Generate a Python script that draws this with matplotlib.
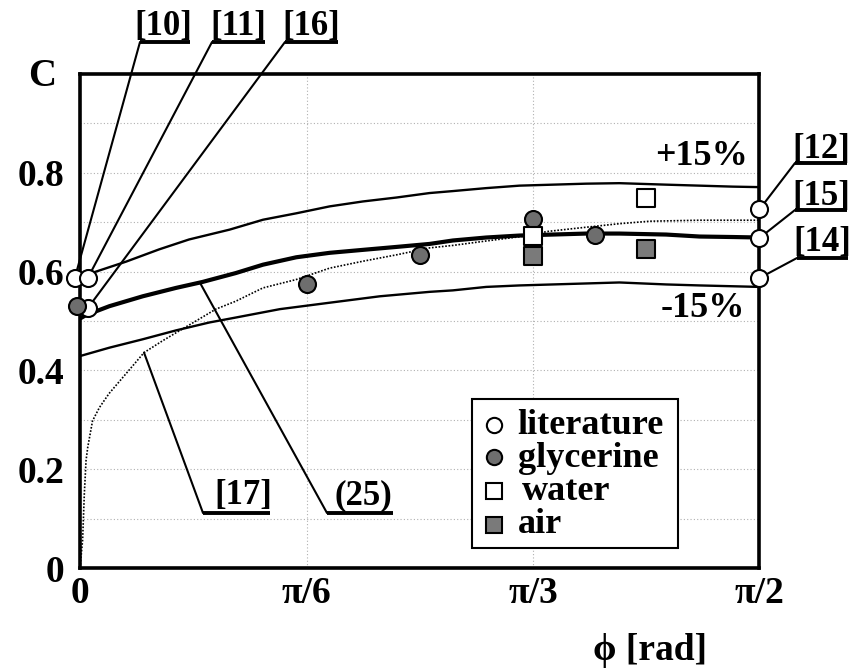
import numpy as np
import matplotlib
matplotlib.use("Agg")
import matplotlib.pyplot as plt
from matplotlib.patches import ConnectionPatch, Rectangle
from matplotlib.lines import Line2D

plt.rcParams["font.family"] = ["Liberation Serif", "DejaVu Serif"]
plt.rcParams["font.weight"] = "bold"

W, H = 854, 669
HALF_PI = np.pi / 2

# Eq. (25): discharge coefficient vs. inclination angle
PHI_EQ25 = [0, 0.014, 0.068, 0.145, 0.222, 0.283, 0.36, 0.423, 0.5, 0.577, 0.654,
            0.732, 0.808, 0.862, 0.939, 1.016, 1.093, 1.17, 1.247, 1.355, 1.432, 1.509, 1.571]
C_EQ25 = [0.505, 0.512, 0.53, 0.55, 0.567, 0.579, 0.597, 0.614, 0.629, 0.638, 0.644,
          0.65, 0.656, 0.663, 0.669, 0.673, 0.675, 0.677, 0.677, 0.675, 0.671, 0.67, 0.669]

# +15% / -15% band around Eq. (25)
PHI_UP = [0, 0.037, 0.106, 0.183, 0.252, 0.346, 0.423, 0.5, 0.577, 0.654, 0.732,
          0.808, 0.862, 0.939, 1.016, 1.093, 1.17, 1.247, 1.355, 1.432, 1.509, 1.571]
C_UP = [0.587, 0.6, 0.62, 0.645, 0.665, 0.685, 0.705, 0.718, 0.732, 0.742, 0.75,
        0.759, 0.763, 0.769, 0.774, 0.776, 0.778, 0.779, 0.776, 0.774, 0.772, 0.771]

PHI_LO = [0, 0.068, 0.145, 0.222, 0.299, 0.36, 0.462, 0.577, 0.693, 0.808, 0.862,
          0.939, 1.016, 1.093, 1.17, 1.247, 1.355, 1.432, 1.571]
C_LO = [0.429, 0.446, 0.463, 0.481, 0.497, 0.507, 0.524, 0.537, 0.55, 0.559, 0.562,
        0.569, 0.572, 0.574, 0.576, 0.578, 0.574, 0.572, 0.569]

# correlation of ref. [17]
PHI_R17 = [0, 0.006, 0.010, 0.014, 0.018, 0.029, 0.045, 0.067, 0.106, 0.148, 0.191,
           0.237, 0.268, 0.314, 0.36, 0.423, 0.5, 0.577, 0.654, 0.732, 0.808, 0.862,
           0.939, 1.047, 1.078, 1.14, 1.247, 1.317, 1.432, 1.571]
C_R17 = [0, 0.056, 0.15, 0.218, 0.245, 0.298, 0.325, 0.353, 0.393, 0.436, 0.46,
         0.484, 0.5, 0.524, 0.54, 0.567, 0.584, 0.607, 0.621, 0.634, 0.648, 0.653,
         0.662, 0.674, 0.681, 0.687, 0.697, 0.702, 0.704, 0.704]

# measured / literature points
LIT_PHI = [-0.012, 0.018, 0.018, HALF_PI, HALF_PI, HALF_PI]
LIT_C = [0.587, 0.587, 0.526, 0.726, 0.668, 0.587]
GLY_PHI = [-0.007, np.pi / 6, np.pi / 4, np.pi / 3, 1.19]
GLY_C = [0.53, 0.575, 0.634, 0.706, 0.675]
WAT_PHI = [np.pi / 3, 5 * np.pi / 12]
WAT_C = [0.673, 0.75]
AIR_PHI = [np.pi / 3, 5 * np.pi / 12]
AIR_C = [0.632, 0.646]

# reference tags: label, anchor point on the chart, leader end / text / underline (pixels)
TAGS = ["[10]", "[11]", "[16]", "[12]", "[15]", "[14]", "[17]", "(25)"]
TAG_ANCHOR = [(-0.012, 0.587), (0.018, 0.587), (0.018, 0.526),
              (HALF_PI, 0.726), (HALF_PI, 0.668), (HALF_PI, 0.587),
              (0.148, 0.436), (0.277, 0.578)]
TAG_END = [(140, 42), (212, 42), (285, 42), (795, 163), (795, 210), (797, 258),
           (203, 513), (327, 513)]
TAG_TEXT = [(163, 35), (238, 35), (311, 35), (821, 158), (821, 205), (822, 251),
            (243, 504), (363, 504)]
TAG_LINE_X1 = [190, 265, 338, 847, 847, 848, 270, 393]


def fpx(x, y):
    return (x / W, 1 - y / H)


fig = plt.figure(figsize=(W / 100, H / 100), dpi=100)
ax = fig.add_axes([80 / W, 1 - 568 / H, 679.5 / W, 494 / H])

ax.plot(PHI_EQ25, C_EQ25, color="k", lw=3.0, zorder=3, solid_capstyle="butt")
ax.plot(PHI_UP, C_UP, color="k", lw=1.7, zorder=3)
ax.plot(PHI_LO, C_LO, color="k", lw=1.7, zorder=3)
ax.plot(PHI_R17, C_R17, color="k", lw=1.2, ls=(0, (1, 1)), zorder=3)

mk = dict(s=150, linewidths=1.5, edgecolors="k", zorder=6, clip_on=False)
ax.scatter(LIT_PHI, LIT_C, marker="o", facecolors="white", **mk)
ax.scatter(GLY_PHI, GLY_C, marker="o", facecolors="#6e6e6e", **mk)
ax.scatter(WAT_PHI, WAT_C, marker="s", facecolors="white", **mk)
ax.scatter(AIR_PHI, AIR_C, marker="s", facecolors="#7a7a7a", **mk)

ax.set_xlim(0, HALF_PI)
ax.set_ylim(0, 1.0)
ax.set_xticks([0, np.pi / 6, np.pi / 3, HALF_PI])
ax.set_xticklabels(["0", "π/6", "π/3", "π/2"])
ax.set_yticks([0, 0.2, 0.4, 0.6, 0.8])
ax.set_yticklabels(["0", "0.2", "0.4", "0.6", "0.8"])
ax.set_yticks([0.1, 0.3, 0.5, 0.7, 0.9], minor=True)
ax.tick_params(which="both", length=0)
ax.tick_params(axis="x", labelsize=27, pad=6)
ax.tick_params(axis="y", labelsize=27, pad=11)
ax.grid(which="both", color="#b0b0b0", ls=(0, (1, 2)), lw=0.8)
for sp in ax.spines.values():
    sp.set_linewidth(2.6)

fig.text(*fpx(42, 77), "C", fontsize=28, ha="center", va="center")
fig.text(*fpx(650, 650), "ϕ [rad]", fontsize=27, ha="center", va="center")
ax.text(1.437, 0.833, "+15%", fontsize=26, ha="center", va="center")
ax.text(1.439, 0.526, "-15%", fontsize=26, ha="center", va="center")

# leaders, underlines and tag text
for tag, anc, end, txt, x1 in zip(TAGS, TAG_ANCHOR, TAG_END, TAG_TEXT, TAG_LINE_X1):
    con = ConnectionPatch(xyA=anc, coordsA=ax.transData, xyB=fpx(*end),
                          coordsB=fig.transFigure, color="k", lw=1.5, zorder=4)
    con.set_clip_on(False)
    ax.add_artist(con)
    fig.add_artist(Line2D([end[0] / W, x1 / W], [1 - end[1] / H] * 2, color="k",
                          lw=2.8, solid_capstyle="butt"))
    fig.text(*fpx(*txt), tag, fontsize=25, ha="center", va="baseline")

# legend box
fig.add_artist(Rectangle(fpx(472, 548), 206 / W, 149 / H, transform=fig.transFigure,
                         facecolor="white", edgecolor="k", lw=1.5, zorder=5))
LEG_LABELS = ["literature", "glycerine", "water", "air"]
LEG_MARK = ["o", "o", "s", "s"]
LEG_FACE = ["white", "#6e6e6e", "white", "#7a7a7a"]
LEG_MARK_Y = [425, 457, 491, 525]
LEG_BASE_Y = [434, 467, 500, 533]
LEG_TEXT_X = [517, 518, 522, 518]
for lab, m, fc, my, by, tx in zip(LEG_LABELS, LEG_MARK, LEG_FACE, LEG_MARK_Y, LEG_BASE_Y, LEG_TEXT_X):
    fig.add_artist(Line2D([494 / W], [1 - my / H], marker=m, ms=11, mfc=fc, mec="k",
                          mew=1.5, ls="none", zorder=6))
    fig.text(tx / W, 1 - by / H, lab, fontsize=26, ha="left", va="baseline", zorder=6)

fig.savefig("out.png", dpi=100)
